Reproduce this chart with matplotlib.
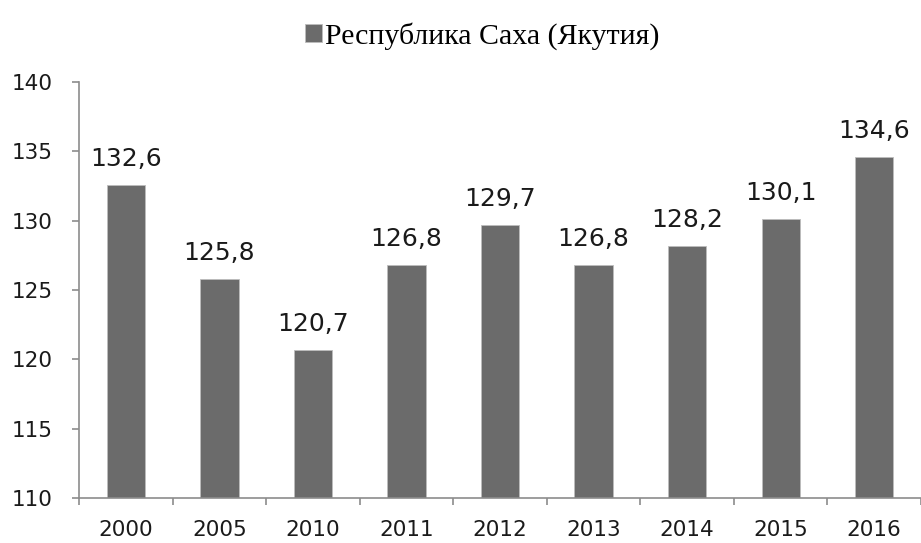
import numpy as np
import matplotlib.pyplot as plt

# Data
years = ['2000', '2005', '2010', '2011', '2012', '2013', '2014', '2015', '2016']
values = [132.6, 125.8, 120.7, 126.8, 129.7, 126.8, 128.2, 130.1, 134.6]
series_name = 'Республика Саха (Якутия)'

bar_color = '#6b6b6b'
axis_color = '#8c8c8c'

fig = plt.figure(figsize=(9.21, 5.43), dpi=100)
ax = fig.add_axes([0.086, 0.083, 0.914, 0.766])

x = np.arange(len(years))
ax.bar(x, values, width=0.41, bottom=0, color=bar_color,
       edgecolor='#bdbdbd', linewidth=0.6, label=series_name)

for xi, v in zip(x, values):
    ax.annotate(f'{v:.1f}'.replace('.', ','), (xi, v), xytext=(0, 10),
                textcoords='offset points', ha='center', va='bottom',
                fontsize=18, family='DejaVu Sans', color='#1a1a1a')

ax.set_ylim(110, 140)
ax.set_xlim(-0.5, len(years) - 0.5)
ax.set_yticks(np.arange(110, 141, 5))
ax.set_xticks(x)
ax.set_xticklabels(years)
ax.set_xticks(np.arange(-0.5, len(years), 1), minor=True)

for s in ['top', 'right']:
    ax.spines[s].set_visible(False)
for s in ['left', 'bottom']:
    ax.spines[s].set_color(axis_color)
    ax.spines[s].set_linewidth(1.2)

ax.tick_params(axis='x', which='major', length=0, pad=16)
ax.tick_params(axis='x', which='minor', length=5, color=axis_color, width=1.2)
ax.tick_params(axis='y', length=5, color=axis_color, width=1.2, pad=14)
for lbl in ax.get_xticklabels() + ax.get_yticklabels():
    lbl.set_family('DejaVu Sans')
    lbl.set_fontsize(15.5)
    lbl.set_color('#1a1a1a')

fig.legend(loc='upper center', bbox_to_anchor=(0.524, 1.008), frameon=False,
           prop={'family': 'Liberation Serif', 'size': 21.5},
           handlelength=0.55, handleheight=0.55, handletextpad=0.12)

fig.savefig('out.png', dpi=100)
